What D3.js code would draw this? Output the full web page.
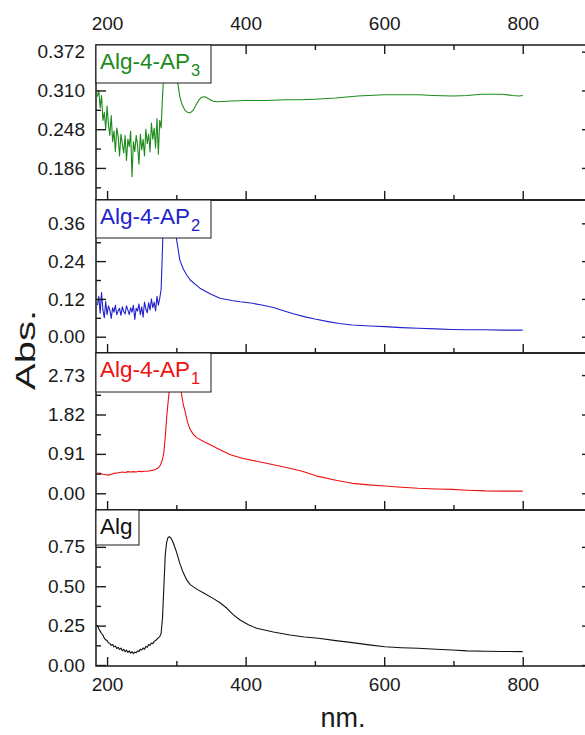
<!DOCTYPE html>
<html>
<head>
<meta charset="utf-8">
<script src="https://cdn.jsdelivr.net/npm/d3@7"></script>
<style>
body { margin: 0; background: #fff; }
text { font-family: "Liberation Sans", Arial, sans-serif; }
</style>
</head>
<body>
<script>
// UV-Vis spectra, four stacked panels (Alg, Alg-4-AP1..3)

// x axis ticks (nm)
var xMajor = [200, 400, 600, 800];
var xMinor = [300, 500, 700];

// Alg-4-AP3 (green, top)
var ap3Nm = [186, 188, 190, 192, 194, 196, 198, 200, 202, 204, 206, 208, 210, 212, 214, 216,
    218, 220, 222, 224, 226, 228, 230, 232, 234, 236, 238, 240, 242, 244, 246, 248, 250, 252,
    254, 256, 258, 260, 262, 264, 266, 268, 270, 272, 274, 276, 278, 280, 282, 284, 288, 292,
    296, 300, 302, 305, 308, 312, 316, 320, 324, 328, 332, 336, 341, 346, 352, 358, 380, 400,
    430, 457, 480, 500, 530, 562, 600, 650, 670, 700, 720, 740, 770, 785, 795, 800];
var ap3Abs = [0.300, 0.310, 0.282, 0.302, 0.262, 0.275, 0.248, 0.285, 0.255, 0.238, 0.270, 0.228,
    0.245, 0.212, 0.250, 0.236, 0.205, 0.240, 0.225, 0.210, 0.238, 0.198, 0.232, 0.220, 0.245,
    0.172, 0.228, 0.212, 0.238, 0.222, 0.192, 0.240, 0.215, 0.232, 0.205, 0.248, 0.225, 0.240,
    0.212, 0.258, 0.232, 0.250, 0.218, 0.265, 0.208, 0.262, 0.250, 0.300, 0.340, 0.400, 0.460,
    0.480, 0.440, 0.360, 0.322, 0.300, 0.288, 0.279, 0.275, 0.274, 0.278, 0.286, 0.294, 0.299,
    0.300, 0.297, 0.293, 0.292, 0.293, 0.294, 0.294, 0.295, 0.295, 0.296, 0.298, 0.301, 0.303,
    0.303, 0.302, 0.301, 0.302, 0.304, 0.304, 0.302, 0.301, 0.302];
var ap3Ticks = [0.186, 0.248, 0.310, 0.372];
var ap3Minor = [0.155, 0.217, 0.279, 0.341];

// Alg-4-AP2 (blue)
var ap2Nm = [186, 188, 190, 192, 194, 196, 198, 200, 202, 204, 206, 208, 210, 212, 214, 216,
    218, 220, 222, 224, 226, 228, 230, 232, 234, 236, 238, 240, 242, 244, 246, 248, 250, 252,
    254, 256, 258, 260, 262, 264, 266, 268, 270, 272, 274, 276, 278, 280, 282, 290, 298, 300,
    305, 310, 315, 320, 334, 350, 363, 380, 392, 410, 425, 440, 457, 470, 486, 500, 519, 535,
    554, 580, 601, 625, 649, 675, 698, 720, 746, 770, 800];
var ap2Abs = [0.100, 0.128, 0.075, 0.140, 0.085, 0.060, 0.112, 0.070, 0.098, 0.085, 0.058, 0.092,
    0.078, 0.100, 0.070, 0.082, 0.090, 0.068, 0.095, 0.080, 0.072, 0.098, 0.085, 0.070, 0.092,
    0.078, 0.100, 0.055, 0.090, 0.082, 0.104, 0.070, 0.095, 0.062, 0.110, 0.088, 0.076, 0.108,
    0.085, 0.120, 0.092, 0.110, 0.082, 0.128, 0.100, 0.122, 0.150, 0.280, 0.450, 0.600, 0.450,
    0.313, 0.243, 0.215, 0.196, 0.180, 0.154, 0.135, 0.122, 0.115, 0.111, 0.106, 0.100, 0.093,
    0.081, 0.072, 0.063, 0.056, 0.048, 0.042, 0.037, 0.034, 0.032, 0.029, 0.027, 0.025, 0.023,
    0.022, 0.022, 0.021, 0.021];
var ap2Ticks = [0.00, 0.12, 0.24, 0.36];
var ap2Minor = [0.06, 0.18, 0.30, 0.42];

// Alg-4-AP1 (red)
var ap1Nm = [186, 190, 194, 198, 202, 206, 210, 214, 218, 222, 226, 230, 234, 238, 242, 246,
    250, 254, 258, 262, 266, 270, 274, 277, 280, 282, 284, 286, 288, 290, 296, 302, 307, 310,
    312, 316, 320, 325, 330, 340, 349, 360, 378, 395, 416, 440, 457, 479, 485, 505, 530, 554,
    578, 601, 625, 649, 675, 698, 720, 746, 770, 800];
var ap1Abs = [0.47, 0.46, 0.44, 0.43, 0.42, 0.44, 0.46, 0.47, 0.48, 0.49, 0.48, 0.50, 0.49, 0.50,
    0.49, 0.51, 0.50, 0.51, 0.51, 0.52, 0.53, 0.55, 0.59, 0.65, 0.78, 0.95, 1.30, 1.75, 2.10,
    2.40, 3.60, 3.20, 2.34, 2.05, 1.93, 1.65, 1.47, 1.35, 1.28, 1.19, 1.12, 1.03, 0.89, 0.81,
    0.74, 0.66, 0.60, 0.52, 0.49, 0.39, 0.30, 0.23, 0.195, 0.17, 0.14, 0.115, 0.10, 0.09, 0.07,
    0.055, 0.05, 0.05];
var ap1Ticks = [0.00, 0.91, 1.82, 2.73];
var ap1Minor = [0.455, 1.365, 2.275, 3.185];

// Alg (black, bottom)
var algNm = [186, 188, 190, 192, 194, 196, 198, 200, 202, 204, 206, 208, 210, 212, 214, 216,
    218, 220, 222, 224, 226, 228, 230, 232, 234, 236, 238, 240, 242, 244, 246, 248, 250, 252,
    254, 256, 258, 260, 262, 264, 266, 268, 270, 272, 274, 276, 278, 280, 282, 284, 286, 288,
    290, 293, 296, 300, 305, 310, 315, 320, 330, 340, 353, 363, 373, 382, 392, 404, 416, 440,
    464, 485, 505, 530, 554, 578, 601, 625, 649, 675, 698, 720, 746, 770, 800];
var algAbs = [0.254, 0.230, 0.215, 0.200, 0.190, 0.170, 0.160, 0.155, 0.140, 0.138, 0.125, 0.130,
    0.115, 0.120, 0.105, 0.112, 0.098, 0.108, 0.090, 0.100, 0.085, 0.095, 0.080, 0.090, 0.075,
    0.085, 0.072, 0.082, 0.078, 0.090, 0.085, 0.100, 0.095, 0.108, 0.100, 0.118, 0.112, 0.130,
    0.125, 0.140, 0.135, 0.150, 0.155, 0.165, 0.172, 0.180, 0.200, 0.300, 0.500, 0.700, 0.780,
    0.810, 0.815, 0.800, 0.770, 0.720, 0.645, 0.585, 0.540, 0.510, 0.480, 0.455, 0.423, 0.395,
    0.360, 0.320, 0.286, 0.256, 0.233, 0.210, 0.190, 0.178, 0.170, 0.155, 0.142, 0.128, 0.116,
    0.110, 0.106, 0.100, 0.095, 0.090, 0.087, 0.086, 0.085];
var algTicks = [0.00, 0.25, 0.50, 0.75];
var algMinor = [0.125, 0.375, 0.625, 0.875];

// Layout
var w = 585;
var h = 735;
var left = 96;
var right = 592;

var panels = [
    {label: "Alg-4-AP", sub: "3", color: "#1b8a1b", nm: ap3Nm, abs: ap3Abs, ticks: ap3Ticks,
        minor: ap3Minor, fmt: ".3f", domain: [0.1347, 0.3827], top: 45, bottom: 200, boxW: 115, boxH: 38},
    {label: "Alg-4-AP", sub: "2", color: "#2222cc", nm: ap2Nm, abs: ap2Abs, ticks: ap2Ticks,
        minor: ap2Minor, fmt: ".2f", domain: [-0.0517, 0.434], top: 200, bottom: 353, boxW: 115, boxH: 38},
    {label: "Alg-4-AP", sub: "1", color: "#ee1111", nm: ap1Nm, abs: ap1Abs, ticks: ap1Ticks,
        minor: ap1Minor, fmt: ".2f", domain: [-0.386, 3.24], top: 353, bottom: 510, boxW: 115, boxH: 39},
    {label: "Alg", sub: "", color: "#111111", nm: algNm, abs: algAbs, ticks: algTicks,
        minor: algMinor, fmt: ".2f", domain: [-0.0063, 0.984], top: 510, bottom: 666, boxW: 43, boxH: 35}
];

var svg = d3.select("body").append("svg")
    .attr("width", w)
    .attr("height", h);

var x = d3.scaleLinear()
    .domain([184, 900])
    .range([left, right]);

// tidy up an axis group: no domain line, our fonts and stroke
function styleAxis(g) {
    g.select(".domain").remove();
    g.attr("font-family", null).attr("font-size", 19);
    g.selectAll("line").attr("stroke", "#1a1a1a").attr("stroke-width", 1.4);
    g.selectAll("text").attr("fill", "#1a1a1a");
}

panels.forEach(function(p, i) {
    var y = d3.scaleLinear()
        .domain(p.domain)
        .range([p.bottom, p.top]);

    var g = svg.append("g");

    g.append("clipPath")
        .attr("id", "clip" + i)
        .append("rect")
        .attr("x", left)
        .attr("y", p.top)
        .attr("width", right - left)
        .attr("height", p.bottom - p.top);

    var line = d3.line()
        .x(function(d) { return x(d[0]); })
        .y(function(d) { return y(d[1]); });

    var pts = p.nm.map(function(n, k) { return [n, p.abs[k]]; });

    g.append("path")
        .datum(pts)
        .attr("clip-path", "url(#clip" + i + ")")
        .attr("fill", "none")
        .attr("stroke", p.color)
        .attr("stroke-width", 1.1)
        .attr("stroke-linejoin", "round")
        .attr("d", line);

    // left axis: majors with labels, minors plain
    g.append("g")
        .attr("transform", "translate(" + left + ",0)")
        .call(d3.axisLeft(y).tickValues(p.ticks).tickSize(-10).tickPadding(11)
            .tickFormat(d3.format(p.fmt)))
        .call(styleAxis);
    g.append("g")
        .attr("transform", "translate(" + left + ",0)")
        .call(d3.axisLeft(y).tickValues(p.minor.filter(function(v) {
            return v > p.domain[0] && v < p.domain[1];
        })).tickSize(-5).tickFormat(""))
        .call(styleAxis);

    // right axis mirror
    g.append("g")
        .attr("transform", "translate(" + right + ",0)")
        .call(d3.axisRight(y).tickValues(p.ticks).tickSize(-10).tickFormat(""))
        .call(styleAxis);

    // bottom ticks (labels only on the last panel)
    var last = i === panels.length - 1;
    g.append("g")
        .attr("transform", "translate(0," + p.bottom + ")")
        .call(d3.axisBottom(x).tickValues(xMajor).tickSize(-9).tickPadding(12)
            .tickFormat(last ? d3.format("d") : ""))
        .call(styleAxis);
    g.append("g")
        .attr("transform", "translate(0," + p.bottom + ")")
        .call(d3.axisBottom(x).tickValues(xMinor).tickSize(-5).tickFormat(""))
        .call(styleAxis);

    if (i === 0) {
        g.append("g")
            .attr("transform", "translate(0," + p.top + ")")
            .call(d3.axisTop(x).tickValues(xMajor).tickSize(-9).tickPadding(15)
                .tickFormat(d3.format("d")))
            .call(styleAxis);
        g.append("g")
            .attr("transform", "translate(0," + p.top + ")")
            .call(d3.axisTop(x).tickValues(xMinor).tickSize(-5).tickFormat(""))
            .call(styleAxis);
    }

    // frame
    g.append("rect")
        .attr("x", left)
        .attr("y", p.top)
        .attr("width", right - left)
        .attr("height", p.bottom - p.top)
        .attr("fill", "none")
        .attr("stroke", "#1a1a1a")
        .attr("stroke-width", 1.5);

    // label box
    g.append("rect")
        .attr("x", left)
        .attr("y", p.top)
        .attr("width", p.boxW)
        .attr("height", p.boxH)
        .attr("fill", "#fff")
        .attr("stroke", "#1a1a1a")
        .attr("stroke-width", 1);

    var t = g.append("text")
        .attr("x", left + 4)
        .attr("y", p.top + 24)
        .attr("font-size", 22.5)
        .attr("fill", p.color)
        .text(p.label);
    if (p.sub) {
        t.append("tspan")
            .attr("font-size", 16.5)
            .attr("dy", 7)
            .attr("dx", 1)
            .text(p.sub);
    }
});

// axis titles
svg.append("text")
    .attr("x", 343)
    .attr("y", 727)
    .attr("text-anchor", "middle")
    .attr("font-size", 27)
    .attr("fill", "#1a1a1a")
    .text("nm.");

svg.append("text")
    .attr("transform", "translate(35,350) rotate(-90)")
    .attr("text-anchor", "middle")
    .attr("font-size", 27)
    .attr("textLength", 80)
    .attr("lengthAdjust", "spacingAndGlyphs")
    .attr("fill", "#1a1a1a")
    .text("Abs.");
</script>
</body>
</html>
